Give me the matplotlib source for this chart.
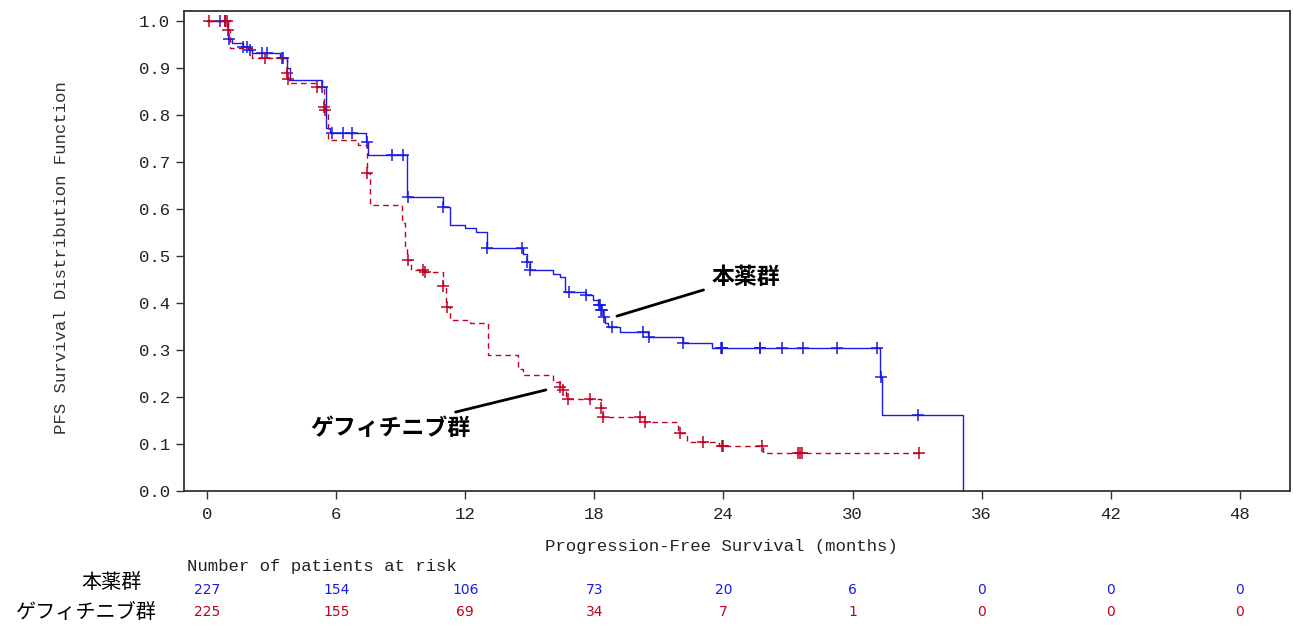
import numpy as np
import matplotlib
matplotlib.use("Agg")
import matplotlib.pyplot as plt
from matplotlib.transforms import blended_transform_factory

# Kaplan-Meier step data (months, survival after each step)
drug_times = [0, 0.98, 1.16, 1.67, 1.9, 2.1, 3.4, 3.7, 3.85, 5.35, 5.53, 5.7, 7.4, 7.5,
              9.3, 10.95, 11.3, 12.0, 12.5, 13.0, 14.7, 14.85, 15.0, 16.08, 16.4, 16.64,
              17.6, 17.94, 18.17, 18.3, 18.4, 18.5, 18.63, 19.19, 20.49, 22.12, 23.47,
              31.27, 31.37, 35.13]
drug_surv = [1.0, 0.962, 0.953, 0.945, 0.938, 0.932, 0.92, 0.9, 0.874, 0.86, 0.772, 0.762,
             0.743, 0.715, 0.626, 0.604, 0.566, 0.56, 0.551, 0.517, 0.505, 0.487, 0.47,
             0.462, 0.455, 0.423, 0.417, 0.406, 0.396, 0.385, 0.37, 0.357, 0.349, 0.338,
             0.328, 0.315, 0.304, 0.243, 0.162, 0.0]
drug_censor = [0.6, 0.84, 1.02, 1.67, 1.86, 2.0, 2.56, 2.79, 3.49, 3.53, 5.36, 5.8, 6.32,
               6.74, 7.43, 8.6, 9.1, 9.32, 10.97, 13.02, 14.64, 14.86, 15.02, 16.8, 17.6,
               18.2, 18.25, 18.32, 18.35, 18.45, 18.82, 20.26, 20.52, 22.13, 23.88, 23.92,
               23.95, 25.68, 25.72, 26.7, 27.7, 29.3, 31.15, 31.3, 33.04]

gef_times = [0, 0.98, 1.07, 2.09, 3.7, 3.75, 3.8, 5.1, 5.44, 5.48, 5.62, 7.02, 7.43, 7.57,
             9.06, 9.2, 9.3, 9.5, 10.1, 10.95, 11.1, 11.3, 12.2, 13.05, 14.45, 14.7, 16.1,
             16.4, 16.55, 16.7, 18.3, 18.4, 20.3, 21.9, 22.3, 23.8, 25.85, 33.1]
gef_surv = [1.0, 0.981, 0.943, 0.921, 0.89, 0.877, 0.868, 0.86, 0.817, 0.81, 0.747, 0.736,
            0.676, 0.609, 0.57, 0.52, 0.491, 0.47, 0.466, 0.436, 0.391, 0.364, 0.357, 0.289,
            0.26, 0.247, 0.232, 0.221, 0.215, 0.196, 0.177, 0.157, 0.147, 0.123, 0.104,
            0.096, 0.081, 0.081]
gef_censor = [0.1, 0.84, 0.93, 0.98, 2.7, 3.72, 3.76, 5.11, 5.44, 5.48, 7.43, 9.34, 10.04,
              10.13, 10.96, 11.15, 16.4, 16.55, 16.78, 17.8, 18.3, 18.4, 20.1, 20.35, 22.0,
              23.05, 23.93, 24.0, 25.8, 27.46, 27.56, 27.65, 33.1]

risk_months = [0, 6, 12, 18, 24, 30, 36, 42, 48]
drug_risk = [227, 154, 106, 73, 20, 6, 0, 0, 0]
gef_risk = [225, 155, 69, 34, 7, 1, 0, 0, 0]

drug_name = "本薬群"
gef_name = "ゲフィチニブ群"
blue = "#1a1ae6"
red = "#c00020"
mono = "Liberation Mono"
jp = ["Noto Sans CJK JP", "DejaVu Sans"]


def surv_at(times, surv, t):
    idx = np.searchsorted(times, t, side="right") - 1
    return np.array(surv)[idx]


fig = plt.figure(figsize=(12.93, 6.25), dpi=100)
ax = fig.add_axes([184 / 1293, 1 - 491 / 625, (1290 - 184) / 1293, (491 - 11) / 625])

ax.step(drug_times, drug_surv, where="post", color=blue, lw=1.0)
ax.plot(drug_censor, surv_at(drug_times, drug_surv, drug_censor), "+", color=blue,
        ms=9, mew=1.1)

ax.step(gef_times, gef_surv, where="post", color=red, lw=1.0, linestyle=(0, (4, 3)))
ax.plot(gef_censor, surv_at(gef_times, gef_surv, gef_censor), "+", color=red,
        ms=9, mew=1.1)

ax.set_xlim(-1.07, 50.33)
ax.set_ylim(0, 1.021)
ax.set_xticks(risk_months)
ax.set_yticks(np.arange(0, 1.01, 0.1))
ax.set_yticklabels([f"{v:.1f}" for v in np.arange(0, 1.01, 0.1)])
ax.tick_params(direction="out", length=6, width=1.0, color="#333333", labelsize=12.5, pad=4)
ax.tick_params(axis="x", pad=5.5)
for lab in ax.get_xticklabels() + ax.get_yticklabels():
    lab.set_fontfamily(mono)
    lab.set_color("#222222")
for sp in ax.spines.values():
    sp.set_color("#333333")
    sp.set_linewidth(1.3)

ax.set_xlabel("Progression-Free Survival (months)", fontfamily=mono, fontsize=12.5,
              color="#222222")
ax.xaxis.set_label_coords(0.486, -0.0995)
fig.text(62 / 1293, 1 - 258 / 625, "PFS Survival Distribution Function", rotation=90,
         fontfamily=mono, fontsize=12.5, ha="center", va="center", color="#333333")

# group labels on the curves
ax.annotate(drug_name, xy=(19.05, 0.372), xytext=(23.45, 0.455), ha="left", va="center",
            fontsize=16.5, fontweight="bold", family=jp,
            arrowprops=dict(arrowstyle="-", lw=2.0, color="black", shrinkA=4, shrinkB=0))
ax.annotate(gef_name, xy=(15.75, 0.215), xytext=(12.25, 0.134), ha="right", va="center",
            fontsize=16.5, fontweight="bold", family=jp,
            arrowprops=dict(arrowstyle="-", lw=2.0, color="black", shrinkA=5, shrinkB=0))

# number at risk table
tr = blended_transform_factory(ax.transData, fig.transFigure)
fig.text(187 / 1293, 1 - 567 / 625, "Number of patients at risk", fontfamily=mono,
         fontsize=12.5, ha="left", va="center", color="#222222")
for m, n1, n2 in zip(risk_months, drug_risk, gef_risk):
    ax.text(m, 1 - 590 / 625, str(n1), transform=tr, ha="center", va="center",
            color=blue, fontsize=10, clip_on=False)
    ax.text(m, 1 - 612 / 625, str(n2), transform=tr, ha="center", va="center",
            color=red, fontsize=10, clip_on=False)
fig.text(142 / 1293, 1 - 582 / 625, drug_name, ha="right", va="center", fontsize=14.5,
         family=jp)
fig.text(157 / 1293, 1 - 613 / 625, gef_name, ha="right", va="center", fontsize=14.5,
         family=jp)

fig.savefig("out.png", dpi=100)
